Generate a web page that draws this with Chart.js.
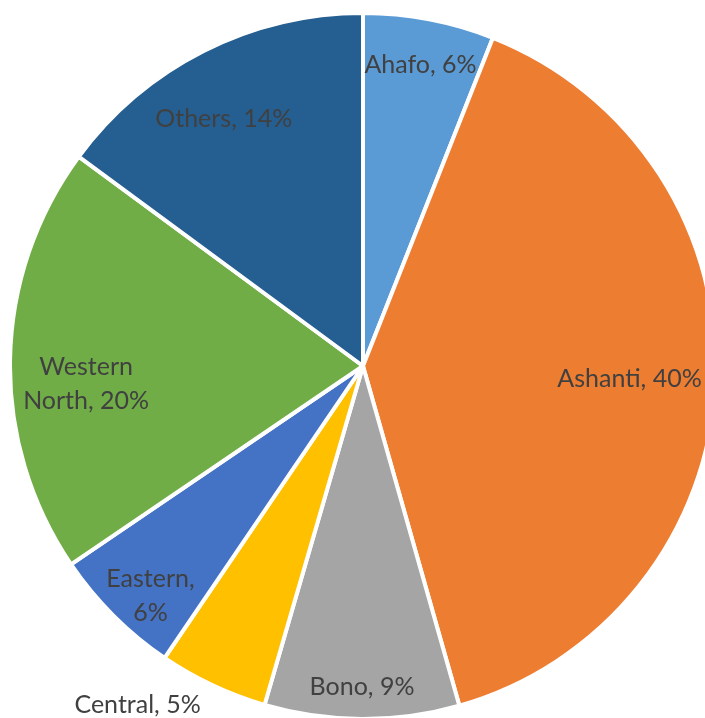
<!DOCTYPE html>
<html lang="en">
<head>
    <meta charset="UTF-8">
    <title>Regions Pie</title>
    <script src="https://cdn.jsdelivr.net/npm/chart.js"></script>
    <style>
        html, body {
            margin: 0;
            padding: 0;
            width: 705px;
            height: 718px;
            overflow: hidden;
            background: #ffffff;
        }
        #pieChart {
            position: absolute;
            left: 8px;
            top: 11px;
        }
    </style>
</head>
<body>
    <canvas id="pieChart" width="710" height="710"></canvas>

    <script>
        var regions = ['Ahafo', 'Ashanti', 'Bono', 'Central', 'Eastern', 'Western North', 'Others'];
        var shares = [6.0, 39.6, 8.9, 5.0, 6.0, 19.6, 14.9];
        var sliceColors = ['#5B9BD5', '#ED7D31', '#A5A5A5', '#FFC000', '#4472C4', '#70AD47', '#255E91'];

        // label text as printed on the chart
        var labelLines = [
            ['Ahafo, 6%'],
            ['Ashanti, 40%'],
            ['Bono, 9%'],
            ['Central, 5%'],
            ['Eastern,', '6%'],
            ['Western', 'North, 20%'],
            ['Others, 14%']
        ];
        // where each label sits: fraction of radius, and degrees off the slice middle
        var labelRadius = [0.869, 0.756, 0.909, 1.154, 0.886, 0.786, 0.803];
        var labelTurn = [0, 0, 0, 8.4, -2.2, -4.85, -2.6];

        var sliceLabels = {
            id: 'sliceLabels',
            afterDatasetsDraw: function(chart) {
                var ctx = chart.ctx;
                var arcs = chart.getDatasetMeta(0).data;
                ctx.save();
                ctx.font = '25px Lato';
                ctx.fillStyle = '#404040';
                ctx.textAlign = 'center';
                ctx.textBaseline = 'middle';
                arcs.forEach(function(arc, i) {
                    var mid = (arc.startAngle + arc.endAngle) / 2 + labelTurn[i] * Math.PI / 180;
                    var r = arc.outerRadius * labelRadius[i];
                    var x = arc.x + Math.cos(mid) * r;
                    var y = arc.y + Math.sin(mid) * r;
                    var lines = labelLines[i];
                    var lh = 34;
                    lines.forEach(function(t, k) {
                        ctx.fillText(t, x, y + (k - (lines.length - 1) / 2) * lh);
                    });
                });
                ctx.restore();
            }
        };

        var ctxPie = document.getElementById('pieChart').getContext('2d');
        var pieChart = new Chart(ctxPie, {
            type: 'pie',
            data: {
                labels: regions,
                datasets: [{
                    data: shares,
                    backgroundColor: sliceColors,
                    borderColor: '#ffffff',
                    borderWidth: 4
                }]
            },
            options: {
                responsive: false,
                animation: false,
                layout: { padding: 0 },
                plugins: {
                    legend: { display: false },
                    tooltip: { enabled: false }
                }
            },
            plugins: [sliceLabels]
        });
    </script>
</body>
</html>
